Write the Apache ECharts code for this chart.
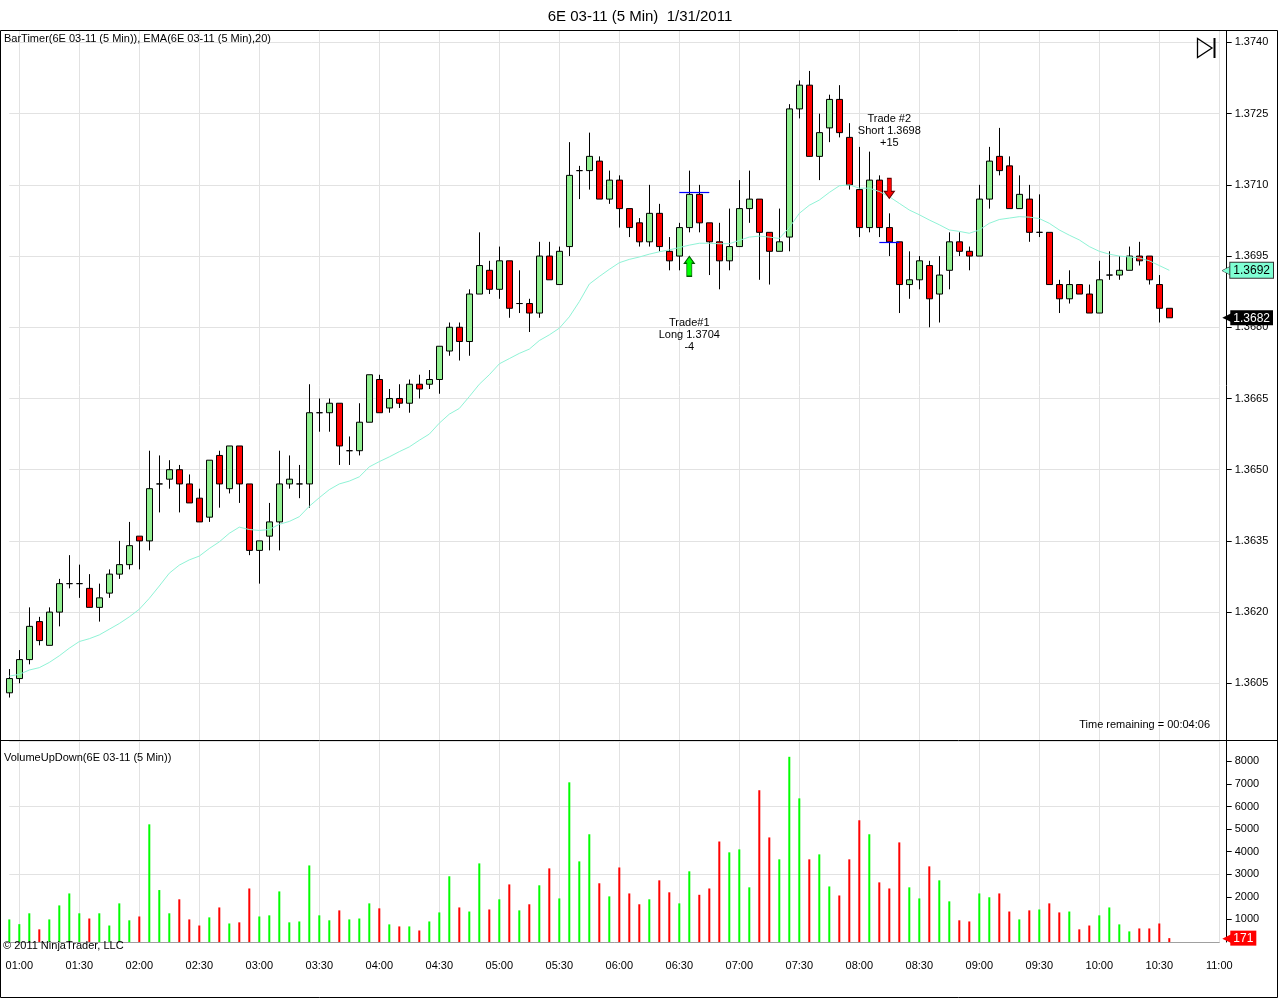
<!DOCTYPE html>
<html>
<head>
<meta charset="utf-8">
<title>6E 03-11 (5 Min) 1/31/2011</title>
<script src="https://cdn.jsdelivr.net/npm/echarts@6/dist/echarts.min.js"></script>
<style>
  html, body { margin: 0; padding: 0; background: #fff; }
  #main { width: 1280px; height: 999px; }
</style>
</head>
<body>
<div id="main"></div>
<script>
// 5 min bars, time stamp = bar close
const times = [
  '00:55',
  '01:00','01:05','01:10','01:15','01:20','01:25','01:30','01:35','01:40','01:45','01:50','01:55',
  '02:00','02:05','02:10','02:15','02:20','02:25','02:30','02:35','02:40','02:45','02:50','02:55',
  '03:00','03:05','03:10','03:15','03:20','03:25','03:30','03:35','03:40','03:45','03:50','03:55',
  '04:00','04:05','04:10','04:15','04:20','04:25','04:30','04:35','04:40','04:45','04:50','04:55',
  '05:00','05:05','05:10','05:15','05:20','05:25','05:30','05:35','05:40','05:45','05:50','05:55',
  '06:00','06:05','06:10','06:15','06:20','06:25','06:30','06:35','06:40','06:45','06:50','06:55',
  '07:00','07:05','07:10','07:15','07:20','07:25','07:30','07:35','07:40','07:45','07:50','07:55',
  '08:00','08:05','08:10','08:15','08:20','08:25','08:30','08:35','08:40','08:45','08:50','08:55',
  '09:00','09:05','09:10','09:15','09:20','09:25','09:30','09:35','09:40','09:45','09:50','09:55',
  '10:00','10:05','10:10','10:15','10:20','10:25','10:30','10:35','10:40','10:45','10:50','10:55',
  '11:00'
];

const open = [
  1.3603,1.3606,1.3610,1.3618,1.3613,1.3620,1.3626,1.3626,1.3625,1.3621,
  1.3624,1.3628,1.3630,1.3636,1.3635,1.3647,1.3648,1.3650,1.3647,1.3644,
  1.3640,1.3653,1.3646,1.3655,1.3647,1.3633,1.3636,1.3639,1.3647,1.3647,
  1.3647,1.3662,1.3662,1.3664,1.3654,1.3654,1.3660,1.3669,1.3663,1.3665,
  1.3664,1.3668,1.3668,1.3669,1.3675,1.3680,1.3677,1.3687,1.3692,1.3688,
  1.3694,1.3685,1.3685,1.3683,1.3695,1.3689,1.3697,1.3713,1.3713,1.3715,
  1.3707,1.3711,1.3705,1.3702,1.3698,1.3704,1.3696,1.3695,1.3701,1.3708,
  1.3702,1.3698,1.3694,1.3697,1.3705,1.3707,1.3700,1.3696,1.3699,1.3726,
  1.3731,1.3716,1.3722,1.3728,1.3720,1.3709,1.3701,1.3711,1.3701,1.3698,
  1.3689,1.3690,1.3693,1.3687,1.3692,1.3698,1.3696,1.3695,1.3707,1.3716,
  1.3714,1.3705,1.3707,1.3700,1.3700,1.3689,1.3686,1.3689,1.3687,1.3683,
  1.3691,1.3691,1.3692,1.3695,1.3695,1.3689,1.3684
];
const close = [
  1.3606,1.3610,1.3617,1.3614,1.3620,1.3626,1.3626,1.3626,1.3621,1.3623,
  1.3628,1.3630,1.3634,1.3635,1.3646,1.3647,1.3650,1.3647,1.3643,1.3639,
  1.3652,1.3647,1.3655,1.3647,1.3633,1.3635,1.3639,1.3647,1.3648,1.3647,
  1.3662,1.3662,1.3664,1.3655,1.3654,1.3660,1.3670,1.3662,1.3665,1.3664,
  1.3668,1.3667,1.3669,1.3676,1.3680,1.3677,1.3687,1.3693,1.3688,1.3694,
  1.3684,1.3685,1.3683,1.3695,1.3690,1.3696,1.3712,1.3713,1.3716,1.3707,
  1.3711,1.3705,1.3701,1.3698,1.3704,1.3697,1.3694,1.3701,1.3708,1.3702,
  1.3698,1.3694,1.3697,1.3705,1.3707,1.3700,1.3696,1.3698,1.3726,1.3731,
  1.3716,1.3721,1.3728,1.3721,1.3710,1.3701,1.3711,1.3701,1.3698,1.3689,
  1.3690,1.3694,1.3686,1.3691,1.3698,1.3696,1.3695,1.3707,1.3715,1.3713,
  1.3705,1.3708,1.3700,1.3700,1.3689,1.3686,1.3689,1.3687,1.3683,1.3690,
  1.3691,1.3692,1.3695,1.3694,1.3690,1.3684,1.3682
];
const high = [
  1.3608,1.3612,1.3621,1.3619,1.3621,1.3627,1.3632,1.3630,1.3628,1.3626,
  1.3629,1.3635,1.3639,1.3636,1.3654,1.3653,1.3652,1.3651,1.3649,1.3646,
  1.3652,1.3654,1.3655,1.3655,1.3647,1.3635,1.3643,1.3654,1.3653,1.3651,
  1.3668,1.3665,1.3665,1.3664,1.3657,1.3664,1.3670,1.3670,1.3667,1.3668,
  1.3669,1.3670,1.3671,1.3676,1.3681,1.3681,1.3688,1.3700,1.3694,1.3697,
  1.3694,1.3692,1.3686,1.3698,1.3698,1.3697,1.3719,1.3714,1.3721,1.3716,
  1.3713,1.3712,1.3705,1.3703,1.3710,1.3706,1.3699,1.3702,1.3713,1.3710,
  1.3702,1.3702,1.3705,1.3711,1.3713,1.3707,1.3700,1.3705,1.3727,1.3732,
  1.3734,1.3725,1.3729,1.3731,1.3723,1.3718,1.3717,1.3712,1.3704,1.3698,
  1.3696,1.3695,1.3694,1.3695,1.3700,1.3700,1.3697,1.3710,1.3718,1.3722,
  1.3716,1.3712,1.3710,1.3708,1.3700,1.3690,1.3692,1.3689,1.3689,1.3694,
  1.3696,1.3695,1.3697,1.3698,1.3695,1.3691,1.3684
];
const low = [
  1.3602,1.3605,1.3609,1.3613,1.3613,1.3617,1.3625,1.3623,1.3621,1.3618,
  1.3623,1.3627,1.3629,1.3629,1.3633,1.3641,1.3646,1.3641,1.3643,1.3639,
  1.3639,1.3642,1.3645,1.3643,1.3632,1.3626,1.3633,1.3633,1.3646,1.3644,
  1.3642,1.3658,1.3658,1.3651,1.3651,1.3653,1.3660,1.3662,1.3662,1.3663,
  1.3662,1.3665,1.3667,1.3666,1.3674,1.3673,1.3674,1.3687,1.3687,1.3686,
  1.3682,1.3683,1.3679,1.3682,1.3690,1.3689,1.3695,1.3707,1.3709,1.3707,
  1.3706,1.3701,1.3699,1.3697,1.3697,1.3696,1.3692,1.3692,1.3700,1.3700,
  1.3691,1.3688,1.3692,1.3697,1.3702,1.3690,1.3689,1.3696,1.3696,1.3724,
  1.3716,1.3711,1.3719,1.3720,1.3709,1.3699,1.3700,1.3699,1.3695,1.3683,
  1.3686,1.3688,1.3680,1.3681,1.3688,1.3695,1.3692,1.3695,1.3705,1.3712,
  1.3705,1.3705,1.3698,1.3699,1.3689,1.3683,1.3685,1.3687,1.3683,1.3683,
  1.3690,1.3690,1.3692,1.3693,1.3689,1.3681,1.3682
];
// EMA(20)
const ema = [
  1.36065,1.36069,1.36078,1.36083,1.36094,1.36108,1.36124,1.36138,1.36144,1.36152,
  1.36164,1.36176,1.36190,1.36206,1.36229,1.36255,1.36282,1.36299,1.36310,1.36318,
  1.36334,1.36348,1.36366,1.36379,1.36374,1.36372,1.36374,1.36385,1.36391,1.36401,
  1.36423,1.36441,1.36458,1.36470,1.36476,1.36485,1.36506,1.36517,1.36527,1.36538,
  1.36548,1.36562,1.36575,1.36598,1.36617,1.36629,1.36654,1.36680,1.36700,1.36723,
  1.36734,1.36745,1.36754,1.36772,1.36784,1.36798,1.36822,1.36854,1.36891,1.36907,
  1.36922,1.36936,1.36943,1.36948,1.36954,1.36959,1.36963,1.36968,1.36973,1.36977,
  1.36977,1.36976,1.36976,1.36983,1.36990,1.36992,1.36990,1.36987,1.37010,1.37040,
  1.37057,1.37068,1.37084,1.37098,1.37100,1.37093,1.37093,1.37086,1.37075,1.37061,
  1.37047,1.37037,1.37026,1.37016,1.37005,1.37002,1.36998,1.37005,1.37019,1.37027,
  1.37030,1.37033,1.37032,1.37029,1.37019,1.37005,1.36994,1.36984,1.36970,1.36960,
  1.36954,1.36950,1.36948,1.36946,1.36940,1.36930,1.36920
];
const volume = [
  1000, 790,1270, 560,1000,1620,2150,1270,1040,1270,
   730,1710, 960,1130,5210,2300,1270,1890,1000, 730,
  1090,1530, 820, 870,2370,1130,1180,2240, 870, 910,
  3390,1180, 960,1400,1000,1040,1710,1490, 780, 690,
   690, 510, 910,1310,2910,1530,1350,3480,1440,1890,
  2550,1400,1670,2510,3260,1930,7070,3570,4770,2600,
  2020,3300,2150,1670,1890,2730,2200,1710,3130,2090,
  2370,4450,3970,4100,2420,6720,4630,3660,8200,6360,
  3660,3880,2460,2060,3660,5390,4770,2640,2370,4410,
  2420,1930,3350,2730,1800, 960, 910,2150,1980,2150,
  1350,1000,1400,1440,1710,1310,1350, 560, 730,1180,
  1530, 780, 470, 600, 600, 820, 171
];

const priceTicks = [1.3605, 1.3620, 1.3635, 1.3650, 1.3665, 1.3680, 1.3695, 1.3710, 1.3725, 1.3740];

const trades = [
  { name: 'Trade#1', bar: 68, side: 'Long', price: 1.3704, result: '-4' },
  { name: 'Trade #2', bar: 88, side: 'Short', price: 1.3698, result: '+15' }
];
// blue order lines near the entries
const tradeLines = [
  { from: 67, to: 70, price: 1.37084 },
  { from: 87, to: 89, price: 1.3698 }
];

const FONT = '"Liberation Sans", Arial, sans-serif';
const GRID_LINE = '#e2e2e2';
const last = close.length - 1;

let candles = open.map(function (o, i) { return [o, close[i], low[i], high[i]]; });
let volData = volume.map(function (v, i) {
  return { value: v, itemStyle: { color: close[i] >= open[i] ? '#00ff00' : '#ff0000' } };
});

function halfHour(index, value) {
  let m = value.slice(3);
  return m === '00' || m === '30';
}

// value tag drawn on the right axis, like the NinjaTrader price markers
function axisTag(boxColor, textColor, arrowColor, outlined) {
  return {
    show: true,
    opacity: 1,
    position: 'end',
    distance: 3,
    formatter: function (p) {
      let v = p.value;
      let txt = v > 100 ? String(v) : v.toFixed(4);
      return '{a|\u25C0}{b|' + txt + '}';
    },
    rich: {
      a: { color: arrowColor, fontSize: 13, fontFamily: 'DejaVu Sans', padding: [0, -2, 0, 0],
           textBorderColor: '#333', textBorderWidth: outlined ? 1 : 0 },
      b: { backgroundColor: boxColor, color: textColor, fontSize: 12, fontFamily: FONT,
           padding: [2, 3, 1, 3], borderColor: '#333', borderWidth: outlined ? 1 : 0 }
    }
  };
}

const upArrow = 'path://M5,0 L10,7 L7.5,7 L7.5,20 L2.5,20 L2.5,7 L0,7 Z';
const downArrow = 'path://M3,0 L7,0 L7,13 L10,13 L5,20 L0,13 L3,13 Z';

let tradeMarks = [];
trades.forEach(function (t) {
  let isLong = t.side === 'Long';
  let anchor = [times[t.bar], isLong ? low[t.bar] : high[t.bar]];
  tradeMarks.push({
    coord: anchor,
    symbol: isLong ? upArrow : downArrow,
    symbolSize: [10, 20],
    symbolOffset: [0, isLong ? 34 : -25],
    itemStyle: { color: isLong ? '#00ff00' : '#ff0000', borderColor: isLong ? '#005a00' : '#6a0000', borderWidth: 1 },
    label: { show: false }
  });
  tradeMarks.push({
    coord: anchor,
    symbol: 'rect',
    symbolSize: 1,
    itemStyle: { color: 'rgba(0,0,0,0)' },
    label: {
      show: true,
      position: 'inside',
      offset: [0, isLong ? 103 : -82],
      formatter: t.name + '\n' + t.side + ' ' + t.price.toFixed(4) + '\n' + t.result,
      color: '#000',
      fontSize: 11,
      lineHeight: 12,
      fontFamily: FONT,
      align: 'center'
    }
  });
});

const HIDDEN_LINE = { color: 'rgba(0,0,0,0)', width: 0 };

let lineMarks = tradeLines.map(function (l) {
  return [
    { coord: [times[l.from], l.price], lineStyle: { color: '#0000ff', width: 1.2, type: 'solid' }, label: { show: false } },
    { coord: [times[l.to], l.price] }
  ];
});
lineMarks.push({ yAxis: close[last], lineStyle: HIDDEN_LINE, label: axisTag('#000', '#fff', '#000', false) });

let myChart = echarts.init(document.getElementById('main'));
let option = {
  animation: false,
  backgroundColor: '#fff',
  title: {
    text: '6E 03-11 (5 Min)  1/31/2011',
    left: 'center',
    top: 4,
    textStyle: { fontSize: 15, fontWeight: 'normal', color: '#000', fontFamily: FONT }
  },
  grid: [
    { left: 9.3, width: 1210, top: 31, height: 709, outerBoundsMode: 'none', containLabel: false },
    { left: 9.3, width: 1210, top: 741, height: 201, outerBoundsMode: 'none', containLabel: false }
  ],
  xAxis: [
    {
      type: 'category', gridIndex: 0, data: times, boundaryGap: false,
      axisLine: { show: false }, axisTick: { show: false }, axisLabel: { show: false },
      splitLine: { show: true, interval: halfHour, lineStyle: { color: GRID_LINE, width: 1 } }
    },
    {
      type: 'category', gridIndex: 1, data: times, boundaryGap: false,
      axisLine: { show: true, lineStyle: { color: '#a0a0a0', width: 1 } },
      axisTick: { show: false },
      axisLabel: { interval: halfHour, color: '#000', fontSize: 11, fontFamily: FONT, margin: 18 },
      splitLine: { show: true, interval: halfHour, lineStyle: { color: GRID_LINE, width: 1 } }
    }
  ],
  yAxis: [
    {
      type: 'value', gridIndex: 0, position: 'right', offset: 7.4,
      min: 1.359306, max: 1.374241, scale: true,
      axisLine: { show: true, lineStyle: { color: '#000', width: 1 } },
      axisTick: { show: true, length: 5, customValues: priceTicks, lineStyle: { color: '#000' } },
      axisLabel: {
        customValues: priceTicks, color: '#000', fontSize: 11, fontFamily: FONT, margin: 8,
        formatter: function (v) { return v.toFixed(4); }
      },
      splitLine: { show: true, lineStyle: { color: GRID_LINE, width: 1 } }
    },
    {
      type: 'value', gridIndex: 1, position: 'right', offset: 7.4,
      min: 0, max: 8900, interval: 1000,
      axisLine: { show: true, lineStyle: { color: '#000', width: 1 } },
      axisTick: { show: true, length: 5, lineStyle: { color: '#000' } },
      axisLabel: {
        color: '#000', fontSize: 11, fontFamily: FONT, margin: 8, showMinLabel: false, showMaxLabel: false,
        formatter: function (v) { return String(v); }
      },
      splitLine: { show: false }
    },
    {
      type: 'value', gridIndex: 1, position: 'right',
      min: 0, max: 8900, interval: 3000,
      axisLine: { show: false }, axisTick: { show: false }, axisLabel: { show: false },
      splitLine: { show: true, lineStyle: { color: GRID_LINE, width: 1 } }
    }
  ],
  series: [
    {
      name: '6E 03-11',
      type: 'candlestick',
      xAxisIndex: 0, yAxisIndex: 0,
      data: candles,
      barWidth: 6,
      clip: false,
      itemStyle: {
        color: '#90ee90', color0: '#ff0000',
        borderColor: '#000', borderColor0: '#000', borderColorDoji: '#000', borderWidth: 1
      },
      markPoint: { silent: true, data: tradeMarks },
      markLine: { silent: true, symbol: 'none', precision: 5, z: 10, data: lineMarks }
    },
    {
      name: 'EMA(20)',
      type: 'line',
      xAxisIndex: 0, yAxisIndex: 0,
      data: ema,
      showSymbol: false,
      clip: false,
      lineStyle: { color: '#8ff3d6', width: 1 },
      markLine: {
        silent: true, symbol: 'none', precision: 5,
        data: [{ yAxis: ema[last], lineStyle: HIDDEN_LINE, label: axisTag('#7fffd4', '#000', '#7fffd4', true) }]
      }
    },
    {
      name: 'VolumeUpDown',
      type: 'bar',
      xAxisIndex: 1, yAxisIndex: 1,
      data: volData,
      barWidth: 2,
      clip: false,
      markLine: {
        silent: true, symbol: 'none', precision: 0,
        data: [{ yAxis: volume[last], lineStyle: HIDDEN_LINE, label: axisTag('#ff0000', '#fff', '#ff0000', false) }]
      }
    }
  ],
  graphic: [
    { type: 'rect', z: 100, silent: true, shape: { x: 0.5, y: 30.5, width: 1277, height: 967 }, style: { fill: 'none', stroke: '#000', lineWidth: 1 } },
    { type: 'line', z: 100, silent: true, shape: { x1: 0, y1: 740.5, x2: 1278, y2: 740.5 }, style: { stroke: '#000', lineWidth: 1 } },
    { type: 'text', z: 100, left: 4, top: 33, style: { text: 'BarTimer(6E 03-11 (5 Min)), EMA(6E 03-11 (5 Min),20)', font: '11px ' + FONT, fill: '#000' } },
    { type: 'text', z: 100, left: 4, top: 752, style: { text: 'VolumeUpDown(6E 03-11 (5 Min))', font: '11px ' + FONT, fill: '#000' } },
    { type: 'text', z: 100, left: 3, top: 940, style: { text: '\u00A9 2011 NinjaTrader, LLC', font: '11px ' + FONT, fill: '#000' } },
    { type: 'text', z: 100, right: 70, top: 719, style: { text: 'Time remaining = 00:04:06', font: '11px ' + FONT, fill: '#000' } },
    { type: 'polygon', z: 100, silent: true, shape: { points: [[1197.5, 38.5], [1197.5, 57.5], [1212, 48]] }, style: { fill: 'none', stroke: '#000', lineWidth: 1.3 } },
    { type: 'rect', z: 100, silent: true, shape: { x: 1213.5, y: 38, width: 2, height: 20 }, style: { fill: '#000' } }
  ]
};
myChart.setOption(option);
</script>
</body>
</html>
